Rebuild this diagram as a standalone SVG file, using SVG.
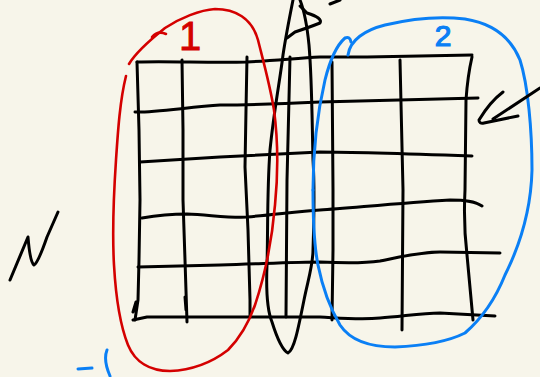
<svg xmlns="http://www.w3.org/2000/svg" width="540" height="377" viewBox="0 0 540 377">
<style>
.k{fill:none;stroke:#000;stroke-width:3;stroke-linecap:round;stroke-linejoin:round}
.r{fill:none;stroke:#d40000;stroke-width:2.6;stroke-linecap:round;stroke-linejoin:round}
.b{fill:none;stroke:#0a7ff5;stroke-width:3;stroke-linecap:round;stroke-linejoin:round}
.t{font-family:"Liberation Sans",Arial,sans-serif}
</style>
<rect width="540" height="377" fill="#f7f5ea"/>
<g id="grid">
<path class="k" d="M137,62 C170,61 210,63 247,62 C280,60 300,58 320,57 L367,57 L472,55"/>
<path class="k" d="M135,112 C150,113 190,107 220,105 C240,105 260,105 320,102 C360,101 400,100 478,98"/>
<path class="k" d="M140,162 L220,157 L320,152 C350,152 387,153 472,156"/>
<path class="k" d="M142,218 Q165,214 187,214 C210,215 230,218 247,217 C280,214 300,211 320,210 C350,208 400,203 450,200 C465,200 475,201 482,206"/>
<path class="k" d="M138,267 L220,265 C280,263 300,262 320,262 C340,263 360,264 380,261 C400,257 420,252 440,252 L500,253"/>
<path class="k" d="M133,320 L147,317 L220,317 L320,317 C340,318 360,320 380,318 C400,317 420,313 440,313 L495,316"/>
<path class="k" d="M137,62 L139,130 L140,200 L139,260 L138,300 L135,320 M136,302 L133,312"/>
<path class="k" d="M182,60 L183,130 L183,200 L185,260 L187,322 M185,297 L186,310"/>
<path class="k" d="M247,57 L246,110 L245,167 L248,230 L250,300 L250,317"/>
<path class="k" d="M290,57 L288,140 L287,180 L286,317"/>
<path class="k" d="M332,62 L333,190 L333,250 L332,320"/>
<path class="k" d="M400,60 L403,190 L402,330"/>
<path class="k" d="M472,57 C469,70 467,85 466,100 L465,190 C464,210 464,230 467,255 C469,275 471,300 473,320"/>
</g>
<g id="middle-loop">
<path class="k" d="M293,0 C290,15 286,35 283,55 C280,80 274,110 270,150 C267,190 268,230 267,265 C266,290 267,310 272,322 C277,338 282,350 288,353 C294,350 298,330 304,300 C308,280 313,265 313,250 C314,220 315,190 313,160 C312,120 312,80 309,45 C307,25 304,10 300,0"/>
<path class="k" d="M300,6 L307,13 Q323,18 320,23 Q310,27 295,32 L287,38"/>
<path class="k" d="M330,4 L340,0"/>
</g>
<g id="region-1">
<path class="r" d="M166,34 Q158,30 152,37"/>
<path class="r" d="M129,64 C136,52 150,40 165,28 C180,18 200,10 215,9 C235,9 252,18 258,40 C263,60 270,85 274,110 C278,140 278,175 275,205 C272,240 265,275 255,305 C248,325 240,338 228,350 C215,360 195,370 170,371 C150,371 135,362 128,345 C120,325 116,300 114,265 C112,230 114,190 116,160 C118,130 120,100 126,76"/>
<text class="t" x="190" y="50" font-size="40" fill="#d40000" stroke="#d40000" stroke-width="0.8" text-anchor="middle">1</text>
</g>
<g id="region-2">
<path class="b" d="M313,190 C313,150 318,110 325,80 C330,60 337,45 345,38 Q350,36 351,42"/>
<path class="b" d="M348,55 C350,40 365,30 385,25 C410,19 440,16 465,19 C490,23 510,35 520,60 C528,85 532,130 532,170 C531,210 520,245 505,275 C495,300 480,320 465,333 C445,343 420,346 395,347 C370,347 350,340 340,325 C330,308 322,285 318,265 C314,245 313,215 313,190"/>
<text class="t" x="443" y="46" font-size="30" fill="#0a7ff5" stroke="#0a7ff5" stroke-width="1.2" text-anchor="middle">2</text>
</g>
<g id="arrow">
<path class="k" d="M540,88 L493,119"/>
<path class="k" d="M503,92 C495,98 485,110 479,120 Q479,124 484,123 L518,116"/>
</g>
<g id="marks">
<path class="k" d="M10,280 L28,237 Q30,262 34,265 Q38,263 47,237 L58,212"/>
<path class="b" d="M78,369 L92,368"/>
<path class="b" d="M107,350 Q103,360 110,376"/>
</g>
</svg>
